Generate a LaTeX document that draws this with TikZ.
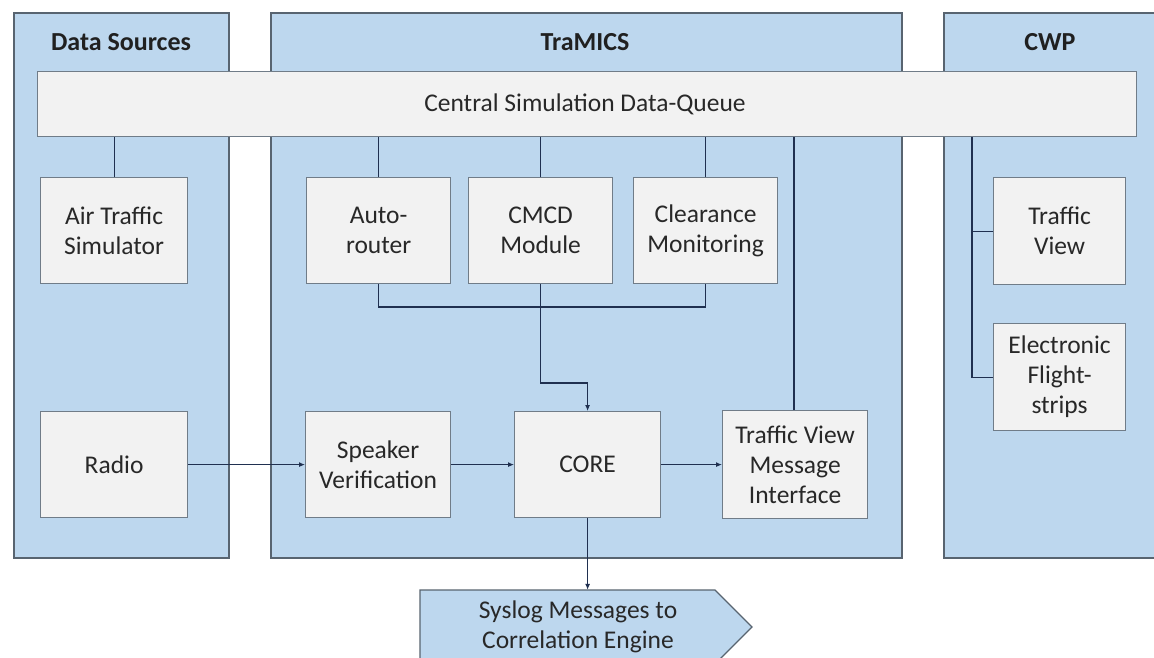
\documentclass[tikz,border=0pt]{standalone}
\usepackage{fontspec}
\setmainfont{Carlito}
\usetikzlibrary{arrows.meta,calc}

\definecolor{panelfill}{RGB}{189,215,238}
\definecolor{panelline}{RGB}{88,100,112}
\definecolor{boxfill}{RGB}{242,242,242}
\definecolor{boxline}{RGB}{112,124,136}
\definecolor{wire}{RGB}{32,48,80}
\definecolor{ink}{RGB}{40,40,40}

\tikzset{
  panel/.style={draw=panelline, fill=panelfill, line width=1.6pt, anchor=north west, inner sep=0pt},
  paneltitle/.style={font=\fontsize{26}{30}\selectfont\bfseries, text=ink!80!black},
  bodyfont/.style={font=\fontsize{25.5}{30}\selectfont, text=ink},
  unit/.style={draw=boxline, fill=boxfill, line width=1.2pt, anchor=north west, inner sep=0pt,
    align=center, bodyfont},
  link/.style={draw=wire, line width=1.1pt},
  flow/.style={link, -{Latex[length=6pt,width=5pt]}},
}

\begin{document}
\begin{tikzpicture}[x=1pt,y=-1pt]
\clip (0,0) rectangle (1154,657);
\fill[white] (0,0) rectangle (1154,657);

% group panels
\node[panel, minimum width=215, minimum height=545] (src) at (13,12) {};
\node[panel, minimum width=631, minimum height=545] (tra) at (270,12) {};
\node[panel, minimum width=215, minimum height=545] (cwp) at (943,12) {};
\node[paneltitle] (srct) at (121,42) {Data Sources};
\node[paneltitle] (trat) at (585,42) {TraMICS};
\node[paneltitle] (cwpt) at (1050,42) {CWP};

% shared data queue
\node[unit, minimum width=1099, minimum height=65] (queue) at (37,71) {};
\node[bodyfont] (queuet) at (585,104) {Central Simulation Data-Queue};

% data sources
\node[unit, minimum width=147, minimum height=106] (ats) at (40,177) {Air Traffic\\Simulator};
\node[unit, minimum width=147, minimum height=106] (radio) at (40,411) {Radio};

% TraMICS modules
\node[unit, minimum width=144, minimum height=106] (auto) at (306,177) {Auto-\\router};
\node[unit, minimum width=144, minimum height=106] (cmcd) at (468,177) {CMCD\\Module};
\node[unit, minimum width=144, minimum height=106] (clear) at (633,177) {Clearance\\Monitoring};
\node[unit, minimum width=145, minimum height=106] (spk) at (305,411) {Speaker\\Verification};
\node[unit, minimum width=146, minimum height=106] (core) at (514,411) {CORE};
\node[unit, minimum width=145, minimum height=108] (tvmi) at (722,410) {Traffic View\\Message\\Interface};

% CWP displays
\node[unit, minimum width=132, minimum height=107] (tv) at (993,177) {Traffic\\View};
\node[unit, minimum width=132, minimum height=107] (efs) at (993,323) {Electronic\\Flight-\\strips};

% outgoing syslog stream
\fill[panelfill] (420,590) -- (715,590) -- (752,627) -- (715,664) -- (420,664) -- cycle;
\draw[panelline, line width=1.2pt] (420,664) -- (420,590) -- (715,590) -- (752,627) -- (715,664);
\node[align=center, bodyfont, minimum width=295, minimum height=74, inner sep=0pt] (syslog) at (578,627) {Syslog Messages to\\Correlation Engine};

% queue taps
\draw[link] (queue.south -| ats.north) -- (ats.north);
\draw[link] (queue.south -| auto.north) -- (auto.north);
\draw[link] (queue.south -| cmcd.north) -- (cmcd.north);
\draw[link] (queue.south -| clear.north) -- (clear.north);
\coordinate (tvtap) at (794,0);
\draw[link] (queue.south -| tvtap) -- (tvmi.north -| tvtap);

% module outputs merged into CORE
\coordinate (merge) at (0,307);
\draw[link] (auto.south) -- (auto.south |- merge) -- (clear.south |- merge) -- (clear.south);
\coordinate (bend) at (0,383);
\draw[flow] (cmcd.south) -- (cmcd.south |- bend) -- (core.north |- bend) -- (core.north);

% audio path
\draw[flow] (radio.east |- spk.west) -- (spk.west);
\draw[flow] (spk.east) -- (core.west);
\draw[flow] (core.east) -- (tvmi.west |- core.east);
\draw[flow] (core.south) -- (core.south |- syslog.north);

% CWP bus
\coordinate (bus) at (972,0);
\draw[link] (queue.south -| bus) -- (efs.west -| bus) -- (efs.west);
\draw[link] (tv.west -| bus) -- (tv.west);
\end{tikzpicture}
\end{document}
